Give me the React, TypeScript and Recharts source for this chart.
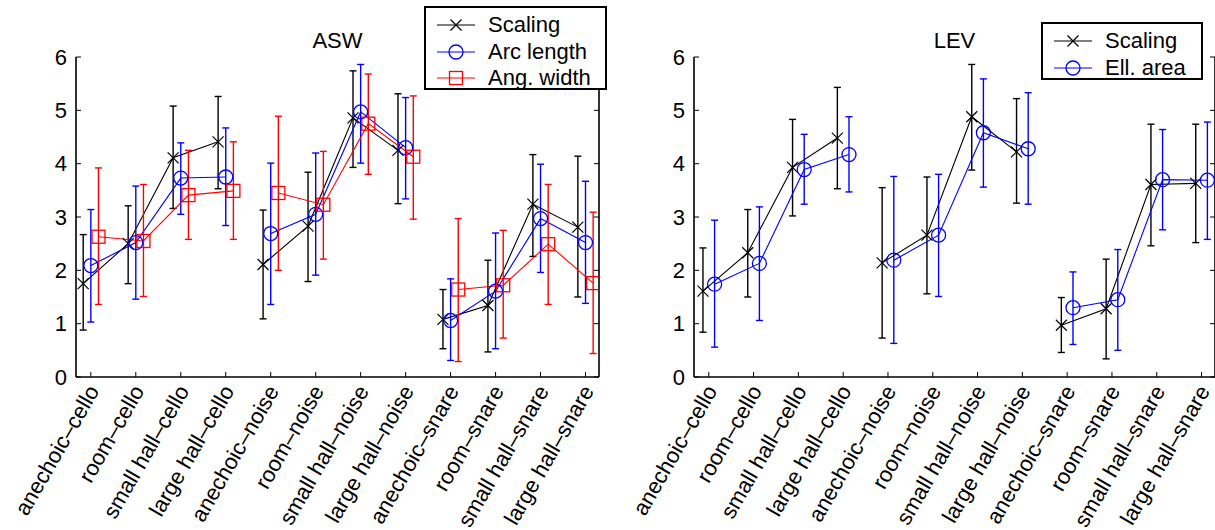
import React from "react";
import { ComposedChart, Line, XAxis, YAxis, ErrorBar } from "recharts";

const categories = [
  "anechoic–cello", "room–cello", "small hall–cello", "large hall–cello",
  "anechoic–noise", "room–noise", "small hall–noise", "large hall–noise",
  "anechoic–snare", "room–snare", "small hall–snare", "large hall–snare",
];
const yTicks = [0, 1, 2, 3, 4, 5, 6];
const catTicks = [0, 1, 2, 3, 4, 5, 6, 7, 8, 9, 10, 11];

// ASW panel
const aswScalingMean = [1.75, 2.5, 4.11, 4.41, 2.11, 2.83, 4.86, 4.25, 1.08, 1.34, 3.24, 2.81];
const aswScalingLow = [0.88, 1.75, 3.16, 3.53, 1.09, 1.79, 3.93, 3.25, 0.53, 0.47, 2.26, 1.5];
const aswScalingHigh = [2.67, 3.21, 5.08, 5.26, 3.13, 3.84, 5.74, 5.31, 1.64, 2.19, 4.17, 4.14];

const aswArcMean = [2.09, 2.52, 3.73, 3.75, 2.69, 3.05, 4.97, 4.3, 1.06, 1.61, 2.97, 2.52];
const aswArcLow = [1.03, 1.46, 3.05, 2.84, 1.36, 1.91, 4.01, 3.34, 0.31, 0.53, 1.96, 1.38];
const aswArcHigh = [3.14, 3.58, 4.39, 4.67, 4.01, 4.2, 5.86, 5.24, 1.84, 2.7, 3.99, 3.67];

const aswAngMean = [2.63, 2.55, 3.41, 3.49, 3.45, 3.23, 4.75, 4.13, 1.64, 1.72, 2.49, 1.76];
const aswAngLow = [1.36, 1.51, 2.58, 2.58, 2.0, 2.21, 3.8, 2.96, 0.29, 0.73, 1.36, 0.44];
const aswAngHigh = [3.92, 3.61, 4.25, 4.41, 4.89, 4.23, 5.68, 5.27, 2.97, 2.75, 3.61, 3.09];

// LEV panel
const levScalingMean = [1.61, 2.33, 3.93, 4.48, 2.14, 2.66, 4.88, 4.22, 0.97, 1.28, 3.61, 3.63];
const levScalingLow = [0.84, 1.5, 3.02, 3.53, 0.73, 1.56, 3.88, 3.26, 0.46, 0.34, 2.46, 2.52];
const levScalingHigh = [2.42, 3.14, 4.83, 5.43, 3.55, 3.75, 5.86, 5.22, 1.49, 2.21, 4.74, 4.74];

const levEllMean = [1.74, 2.13, 3.89, 4.17, 2.19, 2.66, 4.58, 4.28, 1.3, 1.45, 3.7, 3.69];
const levEllLow = [0.56, 1.06, 3.24, 3.47, 0.63, 1.51, 3.56, 3.24, 0.61, 0.5, 2.76, 2.58];
const levEllHigh = [2.94, 3.19, 4.55, 4.88, 3.76, 3.8, 5.59, 5.33, 1.97, 2.39, 4.64, 4.78];

const FONT = "'Liberation Sans', Arial, Helvetica, sans-serif";
const FS = 22;
const X_DOMAIN = [-0.33, 11.3];

// build series rows; a null row between the groups of four breaks the line
const buildRows = (mean: number[], low: number[], high: number[], off: number) => {
  const rows: any[] = [];
  mean.forEach((m, i) => {
    rows.push({ x: i + off, y: m, err: [m - low[i], high[i] - m] });
    if (i === 3 || i === 7) rows.push({ x: i + 0.5, y: null, err: null });
  });
  return rows;
};

const Marker = ({ kind, cx, cy, color }: any) => {
  if (kind === "x") {
    const s = 5.5;
    return (
      <g>
        <line x1={cx - s} y1={cy - s} x2={cx + s} y2={cy + s} stroke={color} strokeWidth={1.2} />
        <line x1={cx - s} y1={cy + s} x2={cx + s} y2={cy - s} stroke={color} strokeWidth={1.2} />
      </g>
    );
  }
  if (kind === "o") return <circle cx={cx} cy={cy} r={7} fill="none" stroke={color} strokeWidth={1.3} />;
  return <rect x={cx - 6.5} y={cy - 6.5} width={13} height={13} fill="none" stroke={color} strokeWidth={1.3} />;
};

const dotFor = (kind: string, color: string) => (p: any) => {
  if (p.value == null || p.cy == null) return <g key={p.key ?? p.index} />;
  return (
    <g key={p.key ?? p.index}>
      <Marker kind={kind} cx={p.cx} cy={p.cy} color={color} />
    </g>
  );
};

const CatTick = ({ x, y, payload }: any) => (
  <g>
    <line x1={x} y1={y} x2={x} y2={y - 5} stroke="#000" strokeWidth={1} />
    <text
      transform={`translate(${x + 9},${y + 14}) rotate(-60)`}
      textAnchor="end"
      fontSize={FS}
      fontFamily={FONT}
      fill="#000"
    >
      {categories[payload.value]}
    </text>
  </g>
);

const TopTick = ({ x, y }: any) => <line x1={x} y1={y} x2={x} y2={y + 5} stroke="#000" strokeWidth={1} />;

const LeftTick = ({ x, y, payload }: any) => (
  <g>
    <line x1={x} y1={y} x2={x + 5} y2={y} stroke="#000" strokeWidth={1} />
    <text x={x - 9} y={y} dy="0.35em" textAnchor="end" fontSize={FS} fontFamily={FONT} fill="#000">
      {payload.value}
    </text>
  </g>
);

const RightTick = ({ x, y }: any) => <line x1={x} y1={y} x2={x - 5} y2={y} stroke="#000" strokeWidth={1} />;

type SeriesDef = { name: string; kind: string; color: string; rows: any[] };

const Panel = ({ series, width, leftW, rightW, title }: any) => (
  <ComposedChart width={width} height={530} margin={{ top: 57, right: 0, bottom: 0, left: 0 }}>
    <XAxis
      xAxisId="b" type="number" dataKey="x" domain={X_DOMAIN} ticks={catTicks} interval={0}
      orientation="bottom" height={153} tickSize={0} tickMargin={0} tickLine={false}
      axisLine={{ stroke: "#000", strokeWidth: 1.6 }} tick={<CatTick />} allowDataOverflow
    />
    <XAxis
      xAxisId="t" type="number" domain={X_DOMAIN} ticks={catTicks} interval={0}
      orientation="top" height={0} tickSize={0} tickMargin={0} tickLine={false}
      axisLine={{ stroke: "#000", strokeWidth: 1.6 }} tick={<TopTick />} allowDataOverflow
    />
    <YAxis
      yAxisId="l" type="number" domain={[0, 6]} ticks={yTicks} interval={0}
      orientation="left" width={leftW} tickSize={0} tickMargin={0} tickLine={false}
      axisLine={{ stroke: "#000", strokeWidth: 1.6 }} tick={<LeftTick />} allowDataOverflow
    />
    <YAxis
      yAxisId="r" type="number" domain={[0, 6]} ticks={yTicks} interval={0}
      orientation="right" width={rightW} tickSize={0} tickMargin={0} tickLine={false}
      axisLine={{ stroke: "#000", strokeWidth: 1.6 }} tick={<RightTick />} allowDataOverflow
    />
    {series.map((s: SeriesDef) => (
      <Line
        key={s.name}
        xAxisId="b"
        yAxisId="l"
        data={s.rows}
        dataKey="y"
        type="linear"
        stroke={s.color}
        strokeWidth={1.1}
        connectNulls={false}
        dot={dotFor(s.kind, s.color)}
        activeDot={false}
        isAnimationActive={false}
      >
        <ErrorBar dataKey="err" width={3.5} stroke={s.color} strokeWidth={1.4} direction="y" isAnimationActive={false} />
      </Line>
    ))}
    <text x={title.x} y={48} textAnchor="middle" fontSize={FS} fontFamily={FONT} fill="#000">
      {title.text}
    </text>
  </ComposedChart>
);

const LegendBox = ({ items, left, top, width, height }: any) => (
  <div
    style={{
      position: "absolute", left, top, width, height, background: "#fff",
      border: "2px solid #000", boxSizing: "border-box", fontFamily: FONT, fontSize: FS,
    }}
  >
    {items.map((it: SeriesDef, i: number) => (
      <div key={it.name} style={{ position: "absolute", left: 0, top: 4 + i * 26.5, height: 26, display: "flex", alignItems: "center" }}>
        <svg width={62} height={26} style={{ display: "block" }}>
          <line x1={11} y1={13} x2={49} y2={13} stroke={it.color} strokeWidth={1} />
          <Marker kind={it.kind} cx={30} cy={13} color={it.color} />
        </svg>
        <span style={{ lineHeight: "26px" }}>{it.name}</span>
      </div>
    ))}
  </div>
);

export default function App() {
  const aswSeries: SeriesDef[] = [
    { name: "Scaling", kind: "x", color: "#000000", rows: buildRows(aswScalingMean, aswScalingLow, aswScalingHigh, -0.17) },
    { name: "Arc length", kind: "o", color: "#0000ff", rows: buildRows(aswArcMean, aswArcLow, aswArcHigh, 0) },
    { name: "Ang. width", kind: "s", color: "#ff0000", rows: buildRows(aswAngMean, aswAngLow, aswAngHigh, 0.17) },
  ];
  const levSeries: SeriesDef[] = [
    { name: "Scaling", kind: "x", color: "#000000", rows: buildRows(levScalingMean, levScalingLow, levScalingHigh, -0.13) },
    { name: "Ell. area", kind: "o", color: "#0000ff", rows: buildRows(levEllMean, levEllLow, levEllHigh, 0.13) },
  ];
  return (
    <div style={{ position: "absolute", left: 0, top: 0, width: 1215, height: 530, overflow: "hidden", background: "#fff" }}>
      <div style={{ position: "absolute", left: 0, top: 0 }}>
        <Panel series={aswSeries} width={610} leftW={76} rightW={11} title={{ text: "ASW", x: 337.5 }} />
      </div>
      <div style={{ position: "absolute", left: 620, top: 0 }}>
        <Panel series={levSeries} width={600} leftW={74} rightW={5} title={{ text: "LEV", x: 334.5 }} />
      </div>
      <LegendBox items={aswSeries} left={424} top={6} width={183} height={84} />
      <LegendBox items={levSeries} left={1041} top={22} width={162} height={58} />
    </div>
  );
}
